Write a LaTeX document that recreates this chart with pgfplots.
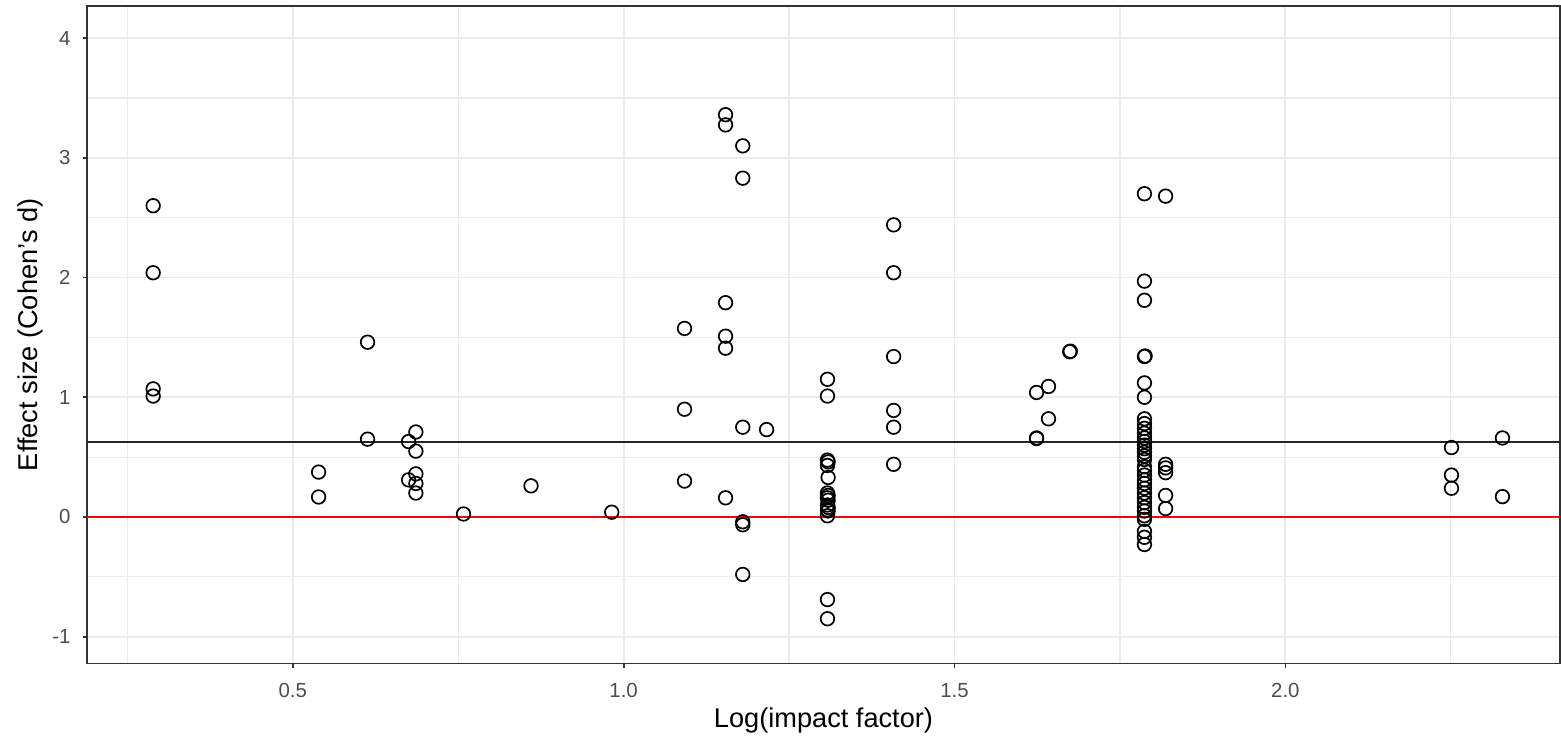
\documentclass[border=0pt]{standalone}
\usepackage{fontspec}
\setmainfont{Liberation Sans}
\usepackage{pgfplots}
\pgfplotsset{compat=1.18}

\definecolor{gridcol}{HTML}{EBEBEB}
\definecolor{tickcol}{HTML}{4D4D4D}
\definecolor{framecol}{HTML}{333333}

\begin{document}
\begin{tikzpicture}
\begin{axis}[
  at={(0,0)}, anchor=south west,
  scale only axis, width=433.5pt, height=193.5pt,
  xmin=0.189, xmax=2.415, ymin=-1.225, ymax=4.267,
  xtick={0.5,1.0,1.5,2.0}, ytick={-1,0,1,2,3,4},
  xticklabels={0.5,1.0,1.5,2.0},
  minor xtick={0.25,0.75,1.25,1.75,2.25},
  minor ytick={-0.5,0.5,1.5,2.5,3.5},
  grid=both,
  major grid style={gridcol, line width=0.55pt},
  minor grid style={gridcol, line width=0.35pt},
  axis line style={framecol, line width=0.5pt},
  tick style={framecol, line width=0.5pt},
  tick align=outside, major tick length=1.3pt,
  xtick pos=bottom, ytick pos=left,
  minor tick length=0pt,
  /pgf/number format/assume math mode=true,
  ticklabel style={font=\fontsize{6}{7}\selectfont, text=tickcol},
  xticklabel style={yshift=-1pt},
  xlabel={Log(impact factor)},
  ylabel={Effect size (Cohen's d)},
  label style={font=\fontsize{8}{9}\selectfont},
  xlabel style={yshift=4pt},
  ylabel style={yshift=-4pt},
  clip=true,
]
\addplot[black!85, line width=0.6pt] coordinates {(0.1,0.625) (2.5,0.625)};
\addplot[red, line width=0.6pt] coordinates {(0.1,0) (2.5,0)};
\addplot[only marks, mark=o, mark size=2pt, mark options={black, line width=0.5pt}]
coordinates {
(0.289,2.60) (0.289,2.04) (0.289,1.07) (0.289,1.01)
(0.539,0.375) (0.539,0.167)
(0.613,1.46) (0.613,0.65)
(0.675,0.63) (0.686,0.71) (0.686,0.55) (0.675,0.31) (0.686,0.28) (0.686,0.36) (0.686,0.20)
(0.758,0.025) (0.860,0.26) (0.982,0.04)
(1.092,1.575) (1.092,0.90) (1.092,0.30)
(1.154,3.36) (1.154,3.275) (1.180,3.10) (1.180,2.83)
(1.154,1.79) (1.154,1.51) (1.154,1.41) (1.154,0.16)
(1.180,0.75) (1.216,0.73) (1.180,-0.04) (1.180,-0.065) (1.180,-0.48)
(1.308,1.15) (1.308,1.01) (1.308,0.475) (1.309,0.46) (1.308,0.43) (1.309,0.33)
(1.308,0.20) (1.309,0.18) (1.308,0.16) (1.309,0.14) (1.308,0.10) (1.309,0.08)
(1.308,0.06) (1.309,0.05) (1.308,0.01) (1.308,-0.69) (1.308,-0.85)
(1.408,2.44) (1.408,2.04) (1.408,1.34) (1.408,0.89) (1.408,0.75) (1.408,0.44)
(1.624,1.04) (1.624,0.66) (1.624,0.655)
(1.642,1.09) (1.642,0.82)
(1.674,1.38) (1.675,1.385)
(1.787,2.70) (1.787,1.97) (1.787,1.81) (1.787,1.34) (1.788,1.345) (1.787,1.12) (1.787,1.00)
(1.787,0.82) (1.787,0.78) (1.787,0.74) (1.787,0.70) (1.787,0.66) (1.787,0.63)
(1.787,0.60) (1.787,0.57) (1.787,0.54) (1.787,0.51) (1.787,0.48) (1.787,0.42)
(1.787,0.39) (1.787,0.35) (1.787,0.31) (1.787,0.28) (1.787,0.24) (1.787,0.20)
(1.787,0.16) (1.787,0.12) (1.787,0.08) (1.787,0.05) (1.787,0.01) (1.787,-0.02)
(1.787,-0.12) (1.787,-0.17) (1.787,-0.23)
(1.819,2.68) (1.819,0.44) (1.819,0.41) (1.819,0.37) (1.819,0.18) (1.819,0.07)
(2.251,0.58) (2.251,0.35) (2.251,0.24)
(2.328,0.66) (2.328,0.17)
};
\end{axis}
\pgfresetboundingbox
\path[use as bounding box] (-25.6pt,-22.6pt) rectangle (433.8pt,195.3pt);
\end{tikzpicture}
\end{document}
